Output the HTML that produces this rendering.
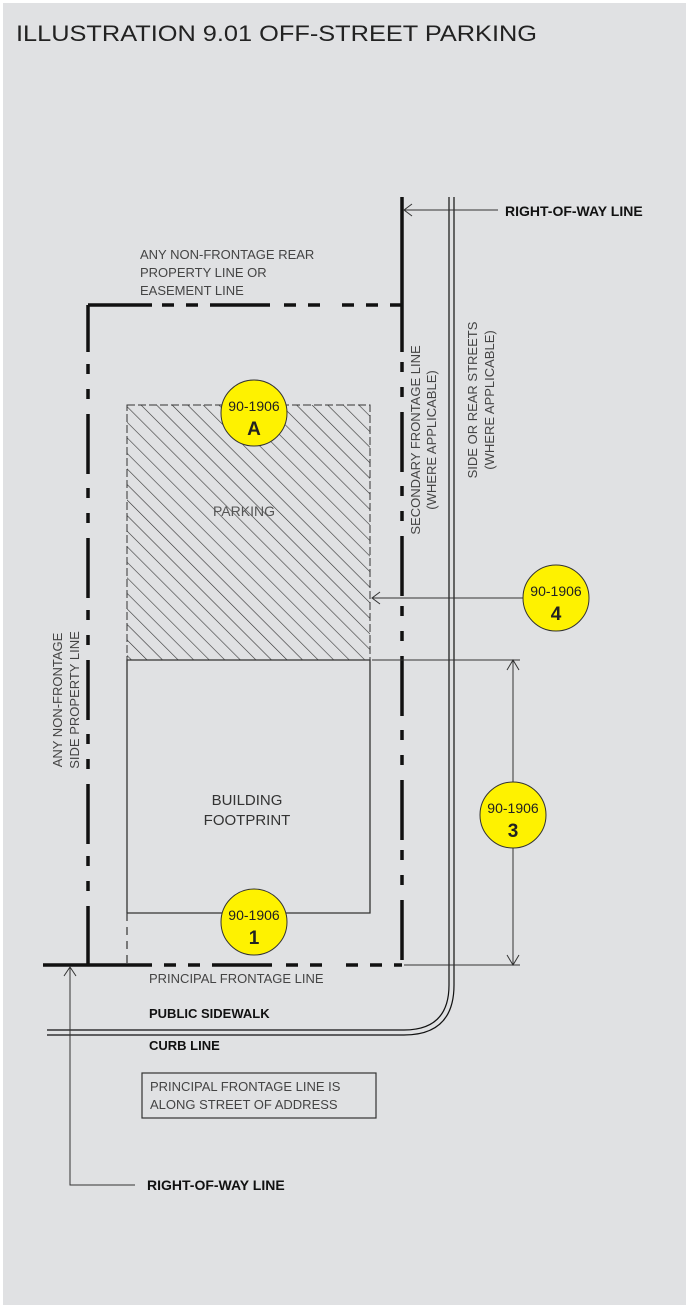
<!DOCTYPE html>
<html><head><meta charset="utf-8"><style>
html,body{margin:0;padding:0;background:#fff}
svg{display:block}
text{font-family:"Liberation Sans",sans-serif}
</style></head><body>
<svg width="690" height="1309" viewBox="0 0 690 1309" xmlns="http://www.w3.org/2000/svg">
<defs>
<pattern id="h" patternUnits="userSpaceOnUse" width="11" height="11" patternTransform="rotate(-45)">
<line x1="0" y1="0" x2="0" y2="11" stroke="#333" stroke-width="1.2"/>
</pattern>
</defs>
<rect x="3" y="3" width="683" height="1302" fill="#e0e1e3"/>
<text x="16" y="41" font-size="22" fill="#222" textLength="521" lengthAdjust="spacingAndGlyphs">ILLUSTRATION 9.01 OFF-STREET PARKING</text>

<!-- parking & building -->
<rect x="127" y="405" width="243" height="255" fill="url(#h)"/>
<rect x="127" y="405" width="243" height="255" fill="none" stroke="#333" stroke-width="1" stroke-dasharray="8 3"/>
<text x="244" y="516" font-size="14" fill="#555" text-anchor="middle">PARKING</text>
<path d="M127 913 V660 H370 V913 H127" fill="none" stroke="#333" stroke-width="1.3"/>
<line x1="127" y1="913" x2="127" y2="965" stroke="#333" stroke-width="1.2" stroke-dasharray="8 6"/>
<text x="247" y="805" font-size="15" fill="#333" text-anchor="middle">BUILDING</text>
<text x="247" y="825" font-size="15" fill="#333" text-anchor="middle">FOOTPRINT</text>

<!-- property lines -->
<g stroke="#111" stroke-width="3.5" fill="none">
<line x1="88" y1="305" x2="152" y2="305"/>
<line x1="152" y1="305" x2="402" y2="305" stroke-dasharray="0 10 12 12 12 12 60 14 12 12 12 12" />
<line x1="402" y1="197" x2="402" y2="352"/>
<line x1="402" y1="352" x2="402" y2="965" stroke-dasharray="0 10 10 15 10 15 60 14 10 15 10 15 60 0"/>
<line x1="88" y1="305" x2="88" y2="352"/>
<line x1="88" y1="352" x2="88" y2="965" stroke-dasharray="0 12 10 15 10 15 60 14 10 15 10 15 60 0"/>
<line x1="43" y1="965" x2="152" y2="965"/>
<line x1="152" y1="965" x2="402" y2="965" stroke-dasharray="0 12 12 12 12 12 60 14 12 12 12 12"/>
</g>

<!-- street double line -->
<path d="M449 197 V985 Q449 1030 404 1030 H47" fill="none" stroke="#111" stroke-width="1.2"/>
<path d="M454 197 V985 Q454 1035 404 1035 H47" fill="none" stroke="#111" stroke-width="1.2"/>

<!-- right-of-way top -->
<line x1="404" y1="210" x2="498" y2="210" stroke="#333" stroke-width="1"/>
<path d="M412 204 L404 210 L412 216" fill="none" stroke="#333"/>
<text x="505" y="216" font-size="14" font-weight="bold" fill="#111">RIGHT-OF-WAY LINE</text>

<text font-size="13" fill="#444"><tspan x="140" y="259">ANY NON-FRONTAGE REAR</tspan><tspan x="140" y="277">PROPERTY LINE OR</tspan><tspan x="140" y="295">EASEMENT LINE</tspan></text>

<g font-size="13" fill="#444" text-anchor="middle">
<text transform="translate(420,440) rotate(-90)">SECONDARY FRONTAGE LINE</text>
<text transform="translate(436,440) rotate(-90)">(WHERE APPLICABLE)</text>
<text transform="translate(477,400) rotate(-90)">SIDE OR REAR STREETS</text>
<text transform="translate(494,400) rotate(-90)">(WHERE APPLICABLE)</text>
<text transform="translate(62,700) rotate(-90)">ANY NON-FRONTAGE</text>
<text transform="translate(79,700) rotate(-90)">SIDE PROPERTY LINE</text>
</g>

<!-- arrow 4 -->
<line x1="372" y1="598" x2="525" y2="598" stroke="#333" stroke-width="1"/>
<path d="M380 592 L372 598 L380 604" fill="none" stroke="#333"/>

<!-- dimension 3 -->
<line x1="372" y1="660" x2="520" y2="660" stroke="#333" stroke-width="1"/>
<line x1="404" y1="965" x2="520" y2="965" stroke="#333" stroke-width="1"/>
<line x1="513" y1="660" x2="513" y2="965" stroke="#333" stroke-width="1"/>
<path d="M507 670 L513 660 L519 670 M507 955 L513 965 L519 955" fill="none" stroke="#333"/>

<!-- bottom labels -->
<text x="149" y="983" font-size="13" fill="#444">PRINCIPAL FRONTAGE LINE</text>
<text x="149" y="1018" font-size="13" font-weight="bold" fill="#111">PUBLIC SIDEWALK</text>
<text x="149" y="1050" font-size="13" font-weight="bold" fill="#111">CURB LINE</text>
<rect x="142" y="1073" width="234" height="45" fill="none" stroke="#333" stroke-width="1.2"/>
<text font-size="13" fill="#444"><tspan x="150" y="1091">PRINCIPAL FRONTAGE LINE IS</tspan><tspan x="150" y="1109">ALONG STREET OF ADDRESS</tspan></text>

<polyline points="70,967 70,1185 135,1185" fill="none" stroke="#333" stroke-width="1"/>
<path d="M64 976 L70 967 L76 976" fill="none" stroke="#333"/>
<text x="147" y="1190" font-size="14" font-weight="bold" fill="#111">RIGHT-OF-WAY LINE</text>

<!-- circles -->
<g stroke="#333" stroke-width="1" fill="#fef200">
<circle cx="254" cy="413" r="33"/>
<circle cx="556" cy="598" r="33"/>
<circle cx="513" cy="815" r="33"/>
<circle cx="254" cy="922" r="33"/>
</g>
<g text-anchor="middle" fill="#222">
<text x="254" y="411" font-size="14">90-1906</text><text x="254" y="435" font-size="19" font-weight="bold">A</text>
<text x="556" y="596" font-size="14">90-1906</text><text x="556" y="620" font-size="19" font-weight="bold">4</text>
<text x="513" y="813" font-size="14">90-1906</text><text x="513" y="837" font-size="19" font-weight="bold">3</text>
<text x="254" y="920" font-size="14">90-1906</text><text x="254" y="944" font-size="19" font-weight="bold">1</text>
</g>
</svg>
</body></html>
